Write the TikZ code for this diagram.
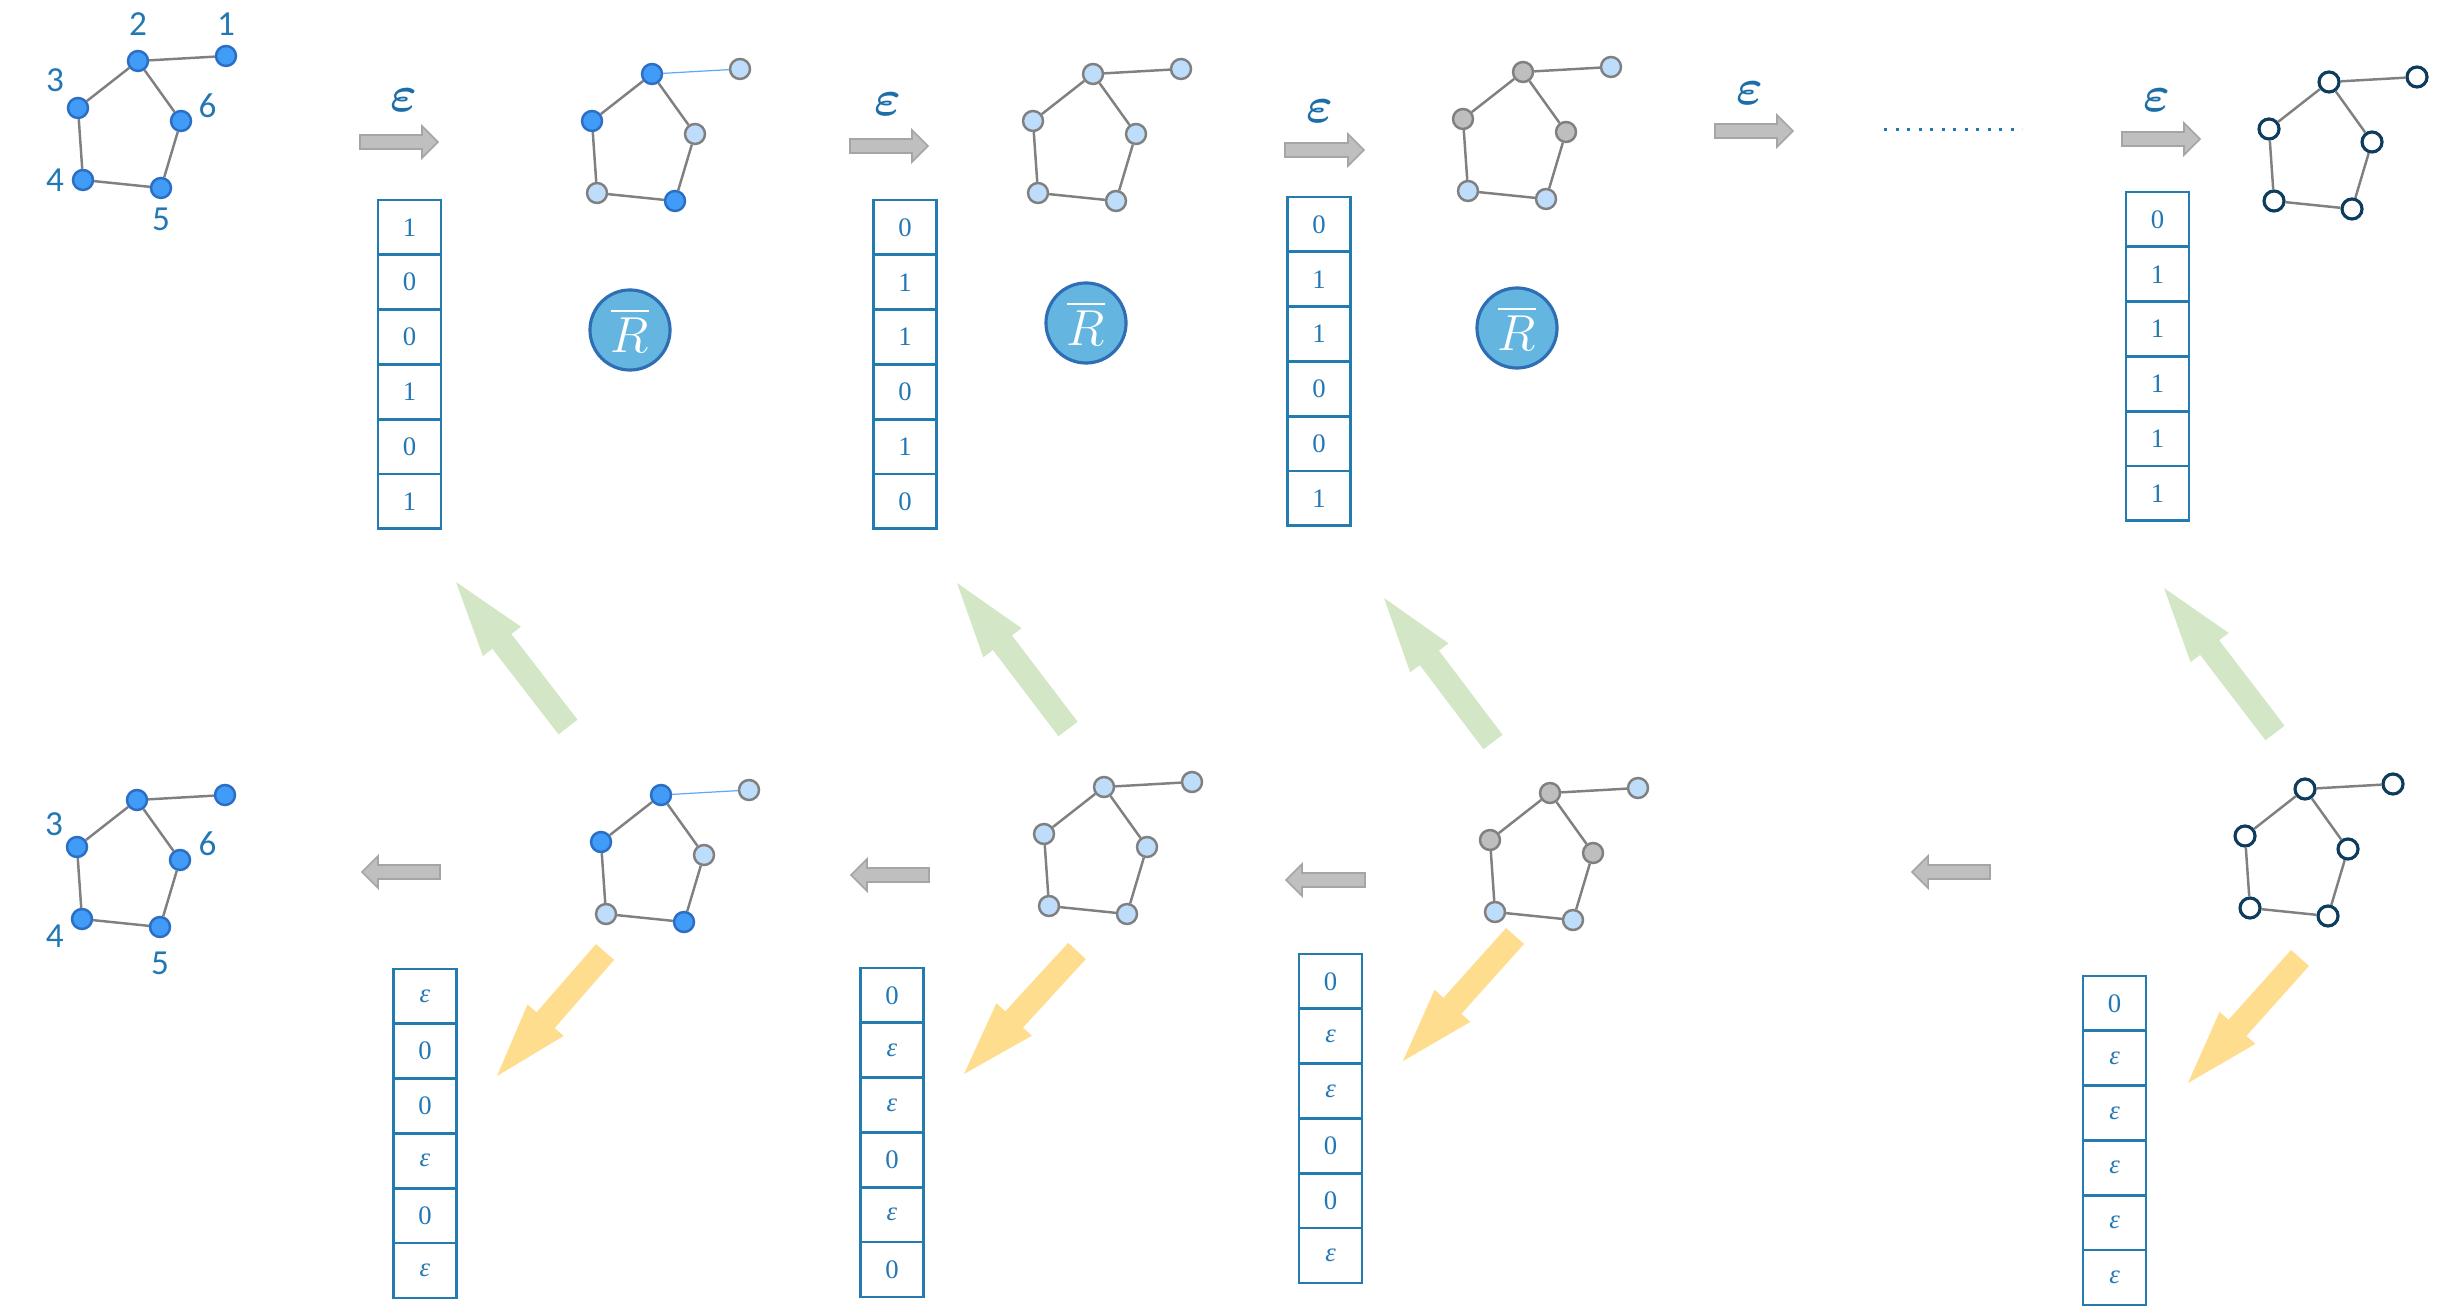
\documentclass[tikz,border=0pt]{standalone}
\usepackage{fontspec}
\usepackage{amsmath,amssymb}
\setmainfont{Liberation Serif}
\newfontfamily\numfont{Carlito}
\usetikzlibrary{positioning,calc}

\definecolor{txtblue}{RGB}{35,120,180}
\definecolor{epsblue}{RGB}{27,110,168}
\definecolor{vecblue}{RGB}{36,123,176}
\definecolor{nodeblue}{RGB}{64,156,246}
\definecolor{nodeblueline}{RGB}{44,110,196}
\definecolor{nodelight}{RGB}{189,221,251}
\definecolor{nodegray}{RGB}{190,190,190}
\definecolor{edgegray}{RGB}{128,128,128}
\definecolor{nodenavy}{RGB}{14,60,92}
\definecolor{rbarfill}{RGB}{100,181,224}
\definecolor{rbarline}{RGB}{46,110,181}
\definecolor{arrgray}{RGB}{191,191,191}
\definecolor{arrgrayline}{RGB}{165,165,165}
\definecolor{arrgreen}{RGB}{211,230,197}
\definecolor{arryellow}{RGB}{254,221,142}

\newcommand{\eps}{\textit{ε}}

% block arrow: style, tail, tip, half shaft, half head, head length
\newcommand{\blockarrow}[6]{%
  \path[#1] ($(#2)!#4!-90:(#3)$) -- ($(#3)!#6!(#2)!#4!90:(#2)$)
    -- ($(#3)!#6!(#2)!#5!90:(#2)$) -- (#3)
    -- ($(#3)!#6!(#2)!#5!-90:(#2)$) -- ($(#3)!#6!(#2)!#4!-90:(#2)$)
    -- ($(#2)!#4!90:(#3)$) -- cycle;}

% graph: prefix, position of node 2, styles of nodes 1..6, style of edge 2--1
\newcommand{\molgraph}[9]{%
  \node[gnode,#4] (#1-2) at (#2) {};
  \node[gnode,#3] (#1-1) at ($(#1-2)+(88,-5)$) {};
  \node[gnode,#5] (#1-3) at ($(#1-2)+(-60,47)$) {};
  \node[gnode,#6] (#1-4) at ($(#1-2)+(-55,119)$) {};
  \node[gnode,#7] (#1-5) at ($(#1-2)+(23,127)$) {};
  \node[gnode,#8] (#1-6) at ($(#1-2)+(43,60)$) {};
  \draw[edge,#9] (#1-2) -- (#1-1);
  \draw[edge] (#1-2) -- (#1-3) -- (#1-4) -- (#1-5) -- (#1-6) -- (#1-2);}

% bit vector: name, top centre, entries
\newcommand{\bitvec}[3]{%
  \coordinate (#1) at (#2);
  \foreach \v [count=\i] in {#3}
    \node[cell] (#1-\i) at ($(#1)+(0,{(\i-0.5)*54.8})$) {\v};}

\begin{document}
\begin{tikzpicture}[
    x=0.01cm, y=-0.01cm,
    gnode/.style={circle, minimum size=0.2cm, inner sep=0pt, line width=0.7pt},
    bnode/.style={fill=nodeblue, draw=nodeblueline},
    lnode/.style={fill=nodelight, draw=edgegray},
    gynode/.style={fill=nodegray, draw=edgegray},
    wnode/.style={fill=white, draw=nodenavy, line width=0.9pt},
    edge/.style={draw=edgegray, line width=0.7pt},
    thinlink/.style={draw=nodeblue!85, line width=0.35pt},
    numlbl/.style={font=\numfont\fontsize{10}{10}\selectfont, text=txtblue, inner sep=0pt},
    label distance=0.09cm,
    cell/.style={draw=vecblue, line width=0.75pt, minimum width=0.63cm, minimum height=0.548cm,
      inner sep=0pt, text=txtblue, font=\fontsize{7.6}{8}\selectfont},
    rbar/.style={circle, fill=rbarfill, draw=rbarline, line width=0.9pt, minimum size=0.8cm,
      inner sep=0pt, text=white, font=\fontsize{14}{14}\selectfont},
    epslbl/.style={text=epsblue, inner sep=0pt, font=\fontsize{14}{14}\selectfont\boldmath},
    grayarr/.style={fill=arrgray, draw=arrgrayline, line width=0.45pt},
    greenarr/.style={fill=arrgreen},
    yellowarr/.style={fill=arryellow},
    dotline/.style={draw=txtblue, line width=0.85pt, dash pattern=on 0.85pt off 2.42pt}
  ]
  \useasboundingbox (0,0) rectangle (2443,1313);

  % ---- top row ----
  \molgraph{t0}{138,61}{bnode, label={[numlbl]90:1}}{bnode, label={[numlbl,label distance=0.14cm]90:2}}
    {bnode, label={[numlbl]131:3}}{bnode, label={[numlbl,label distance=0.07cm]180:4}}
    {bnode, label={[numlbl,label distance=0.08cm]-90:5}}{bnode, label={[numlbl,label distance=0.06cm]10:6}}{}
  \molgraph{t1}{652,74}{lnode}{bnode}{bnode}{lnode}{bnode}{lnode}{thinlink}
  \molgraph{t2}{1093,74}{lnode}{lnode}{lnode}{lnode}{lnode}{lnode}{}
  \molgraph{t3}{1523,72}{lnode}{gynode}{gynode}{lnode}{lnode}{gynode}{}
  \molgraph{t4}{2329,82}{wnode}{wnode}{wnode}{wnode}{wnode}{wnode}{}

  \coordinate (e1a) at (360,142);  \coordinate (e1b) at (438,142);
  \coordinate (e2a) at (850,146);  \coordinate (e2b) at (928,146);
  \coordinate (e3a) at (1285,150); \coordinate (e3b) at (1364,150);
  \coordinate (e4a) at (1715,131); \coordinate (e4b) at (1793,131);
  \coordinate (e5a) at (2122,139); \coordinate (e5b) at (2200,139);
  \foreach \k in {1,...,5}
    \blockarrow{grayarr}{e\k a}{e\k b}{0.07cm}{0.16cm}{0.16cm};

  \node[epslbl] (eps1) at (404,100) {$\varepsilon$};
  \node[epslbl] (eps2) at (888,104) {$\varepsilon$};
  \node[epslbl] (eps3) at (1320,111) {$\varepsilon$};
  \node[epslbl] (eps4) at (1750,93) {$\varepsilon$};
  \node[epslbl] (eps5) at (2157,100) {$\varepsilon$};

  \coordinate (dotsa) at (1884,130); \coordinate (dotsb) at (2022,130);
  \draw[dotline] (dotsa) -- (dotsb);

  \bitvec{v1}{409.5,200}{1,0,0,1,0,1}
  \bitvec{v2}{905,200}{0,1,1,0,1,0}
  \bitvec{v3}{1319,197}{0,1,1,0,0,1}
  \bitvec{v5}{2157.5,192}{0,1,1,1,1,1}

  \node[rbar] (r1) at (630,330) {$\overline{R}$};
  \node[rbar] (r2) at (1086,323) {$\overline{R}$};
  \node[rbar] (r3) at (1517,328) {$\overline{R}$};

  % ---- bottom row ----
  \molgraph{b0}{137,800}{bnode}{bnode}
    {bnode, label={[numlbl,label distance=0.06cm]141:3}}{bnode, label={[numlbl,label distance=0.07cm]196:4}}
    {bnode, label={[numlbl,label distance=0.13cm]-90:5}}{bnode, label={[numlbl,label distance=0.07cm]10:6}}{}
  \molgraph{b1}{661,795}{lnode}{bnode}{bnode}{lnode}{bnode}{lnode}{thinlink}
  \molgraph{b2}{1104,787}{lnode}{lnode}{lnode}{lnode}{lnode}{lnode}{}
  \molgraph{b3}{1550,793}{lnode}{gynode}{gynode}{lnode}{lnode}{gynode}{}
  \molgraph{b5}{2305,789}{wnode}{wnode}{wnode}{wnode}{wnode}{wnode}{}

  \coordinate (l1a) at (440,872);  \coordinate (l1b) at (362,872);
  \coordinate (l2a) at (929,875);  \coordinate (l2b) at (851,875);
  \coordinate (l3a) at (1365,880); \coordinate (l3b) at (1286,880);
  \coordinate (l4a) at (1990,872); \coordinate (l4b) at (1912,872);
  \foreach \k in {1,...,4}
    \blockarrow{grayarr}{l\k a}{l\k b}{0.07cm}{0.16cm}{0.16cm};

  % green: back to the top row, yellow: down to the vectors
  \coordinate (g1a) at (568,727);  \coordinate (g1b) at (456,582);
  \coordinate (g2a) at (1068,729); \coordinate (g2b) at (957,583);
  \coordinate (g3a) at (1493,742); \coordinate (g3b) at (1384,598);
  \coordinate (g4a) at (2275,733); \coordinate (g4b) at (2164,588);
  \coordinate (y1a) at (605,952);  \coordinate (y1b) at (497,1076);
  \coordinate (y2a) at (1077,951); \coordinate (y2b) at (964,1074);
  \coordinate (y3a) at (1515,936); \coordinate (y3b) at (1403,1061);
  \coordinate (y4a) at (2300,958); \coordinate (y4b) at (2188,1083);
  \foreach \k in {1,...,4}{
    \blockarrow{greenarr}{g\k a}{g\k b}{0.12cm}{0.24cm}{0.75cm};
    \blockarrow{yellowarr}{y\k a}{y\k b}{0.12cm}{0.24cm}{0.74cm};
  }

  \bitvec{w1}{425,969}{\eps,0,0,\eps,0,\eps}
  \bitvec{w2}{892,968}{0,\eps,\eps,0,\eps,0}
  \bitvec{w3}{1330.5,954}{0,\eps,\eps,0,0,\eps}
  \bitvec{w5}{2114.5,976}{0,\eps,\eps,\eps,\eps,\eps}
\end{tikzpicture}
\end{document}
